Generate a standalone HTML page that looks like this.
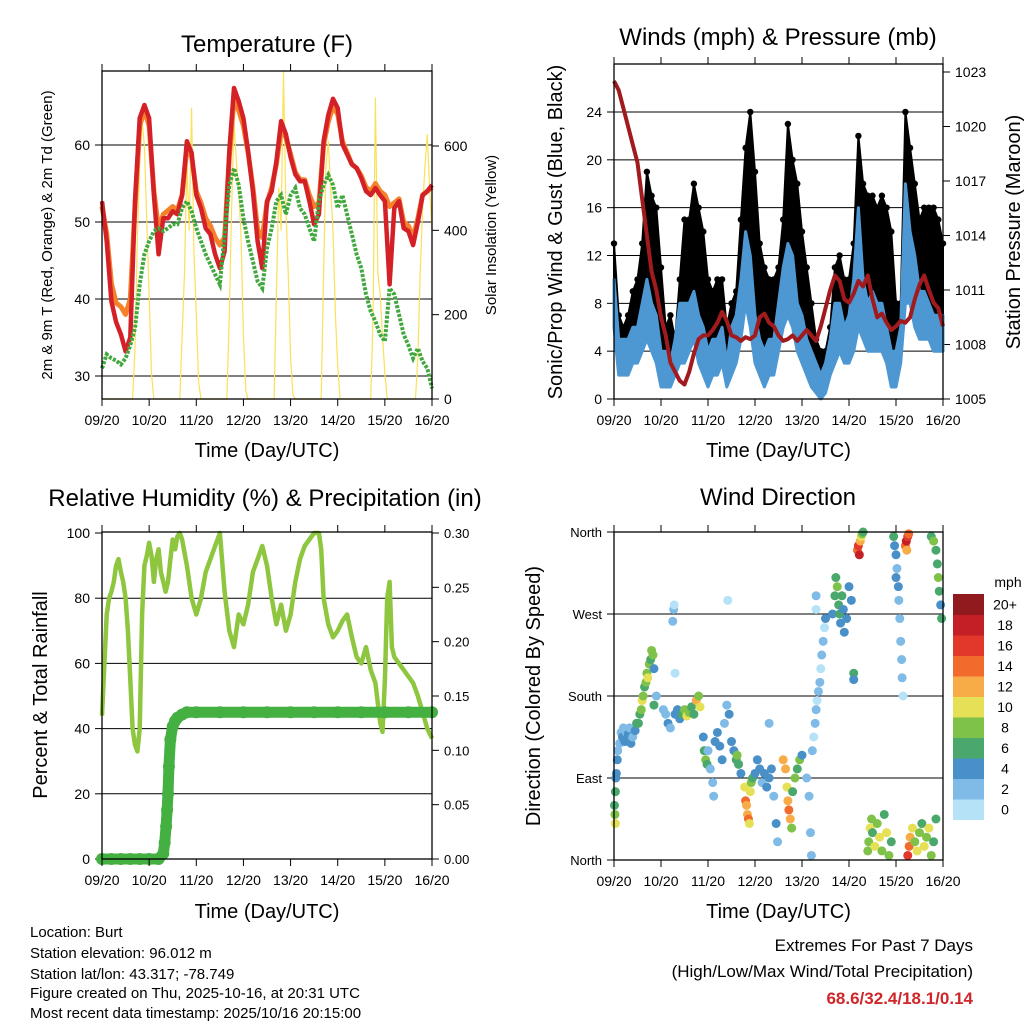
<!DOCTYPE html>
<html><head><meta charset="utf-8">
<style>
html,body{margin:0;padding:0;background:#fff;}
svg{display:block;font-family:"Liberation Sans",Arial,sans-serif;}
</style></head>
<body>
<svg id="fig" width="1024" height="1024" viewBox="0 0 1024 1024" xmlns="http://www.w3.org/2000/svg">
<rect x="0" y="0" width="1024" height="1024" fill="#fff"/>
<g id="p1"></g>
<g id="p2"></g>
<g id="p3"></g>
<g id="p4"></g>
<g id="cb"></g>
<g font-size="15" fill="#000">
<text x="30" y="937">Location: Burt</text>
<text x="30" y="958">Station elevation: 96.012 m</text>
<text x="30" y="979">Station lat/lon: 43.317; -78.749</text>
<text x="30" y="998">Figure created on Thu, 2025-10-16, at 20:31 UTC</text>
<text x="30" y="1018">Most recent data timestamp: 2025/10/16 20:15:00</text>
</g>
<g text-anchor="end">
<text x="973" y="951" font-size="17">Extremes For Past 7 Days</text>
<text x="973" y="977" font-size="17">(High/Low/Max Wind/Total Precipitation)</text>
<text x="973" y="1004" font-size="17" font-weight="bold" fill="#d0262a">68.6/32.4/18.1/0.14</text>
</g>
</svg>
<script>
// ---------- data ----------
const dayLabels = ["09/20","10/20","11/20","12/20","13/20","14/20","15/20","16/20"];
// temperature, 0.1-day step
const tempRed = [52.7,47.5,39.7,37,35.4,33.2,35,52.7,63.5,65.2,63.5,53.5,45.8,50.5,50.5,51.4,51,53.5,60.5,59,53.5,51.8,49.2,48.4,45.8,44,46.2,59.2,67.4,65.7,63.5,59.2,54,47.5,44,52.7,54,57.9,63.1,61.4,58.4,56.2,55.3,55.3,52.7,49.7,51,60.5,63.9,66,64.8,60.1,58.8,57.5,57,55.7,54,53.5,54.4,53.5,52.7,41.9,51.8,52.7,49.2,48.8,47,50,53.5,54,54.8];
const tempOrange = [52,48.5,42,39.5,39,38,40,52,62.5,64.5,62.5,54,49,51,51.5,52,51.5,53.5,59.5,58.5,54,52.5,50.5,49.5,48,47,48,58.5,66,64.5,62.5,59,54.5,49,48,52.5,54.5,57.5,62,61,58.8,56.5,55.5,55.5,53.5,52,52.5,60,63,65,64,60.5,59,57.5,57,56,54.5,54,55,54,53.5,52,52.5,53,50,49.5,48,50.5,53.5,54,54.5];
const dewPoint = [31,32.8,32.3,32,31.5,32.3,34,36.2,41.9,45.8,47.5,48.8,49.2,48.8,49.2,49.7,49.7,51.8,52.7,51.4,49.2,47.5,45.8,44.5,43.2,41.9,48.4,54.8,57,54.8,50.5,47.5,44.9,42.3,41.4,46.6,49.2,52.7,53.5,51,53.5,54.4,51.8,51,49.2,47.5,52.7,54.8,56.1,54.8,51.8,53.5,51,48.4,45.8,44,40.6,38.4,37.1,35.4,34.5,41.4,40.6,38,35.4,34,32.3,33.6,31.9,31,28.4];
// solar insolation, 0.05-day step
const solar = [0,0,0,0,0,0,0,0,0,0,0,0,0,0,120,380,560,660,600,420,
250,60,0,0,0,0,0,0,0,0,0,0,0,0,150,300,560,400,690,350,
200,40,0,0,0,0,0,0,0,0,0,0,0,0,200,450,658,560,500,380,
150,20,0,0,0,0,0,0,0,0,0,0,0,0,250,500,400,777,450,300,
100,10,0,0,0,0,0,0,0,0,0,0,0,0,300,550,611,500,400,200,
80,0,0,0,0,0,0,0,0,0,0,0,0,0,0,200,714,300,250,150,
60,0,0,0,0,0,0,0,0,0,0,0,0,0,100,300,450,550,627,500,400];
// winds (mph), 0.1-day step
const gustHi = [13,7,6,7,9,10,13,19,17,16,11,6,7,5,10,15,15,18,16,14,10,9,10,10,6,8,9,15,21,24,19,13,11,10,10,11,15,23,20,18,14,11,8,5,4,4,6,11,12,10,10,13,22,18,17,17,16,17,16,14,8,8,24,21,18,15,16,16,16,15,13];
const windLo = [6,2,2,2,3,3,4,5,4,3,1,1,1,2,3,3,4,5,3,2,1,2,2,3,1,2,3,5,8,6,3,2,1,2,2,4,6,7,6,4,3,2,1,0.5,0,0.5,2,3,4,3,3,4,6,5,4,4,4,4,3,1,1,3,8,8,6,5,5,5,4,4,4];
const windHi = [10,5,5,5,6,6,8,10,8,7,4,4,3,5,8,8,8,9,7,6,4,5,5,6,3,6,7,10,14,12,7,5,4,5,5,8,11,13,12,8,7,5,4,3,2,3,5,8,8,6,7,10,16,10,8,9,8,8,6,4,4,6,18,14,12,9,9,8,7,7,7];
const pressure = [1022.5,1022,1021,1020,1019,1018,1016,1014,1012,1011,1009.5,1008.5,1007,1006.5,1006,1005.8,1006.5,1007.5,1008.3,1008.5,1008.5,1008.8,1009.2,1009.8,1009.3,1008.5,1008.4,1008.2,1008.4,1008.3,1008.5,1009.5,1009.7,1009.2,1009,1008.5,1008.2,1008.3,1008.5,1008.2,1008.5,1008.8,1008.5,1008.2,1009,1010,1011,1011.8,1011.5,1010.5,1010.3,1010.8,1011.5,1011.2,1011.8,1010.5,1009.5,1009.7,1009.2,1008.8,1009,1009.3,1009.2,1009.5,1010.5,1011.3,1011.8,1011,1010.3,1010,1009];
// humidity
const rhTimes = [0,0.05,0.1,0.15,0.2,0.25,0.3,0.35,0.4,0.45,0.5,0.55,0.6,0.65,0.7,0.75,0.8,0.85,0.9,0.95,1.0,1.05,1.1,1.15,1.2,1.25,1.3,1.35,1.4,1.45,1.5,1.55,1.6,1.65,1.7,1.8,1.9,2.0,2.1,2.2,2.3,2.4,2.5,2.6,2.7,2.8,2.9,3.0,3.1,3.2,3.3,3.4,3.5,3.6,3.7,3.8,3.9,4.0,4.1,4.2,4.3,4.4,4.5,4.6,4.65,4.7,4.8,4.9,5.0,5.1,5.2,5.3,5.4,5.5,5.6,5.7,5.8,5.9,5.95,6.0,6.05,6.1,6.15,6.2,6.3,6.4,6.5,6.6,6.7,6.8,6.9,7.0];
const rhValues = [44,60,75,80,82,85,90,92,88,85,80,70,55,40,35,33,40,75,90,93,97,93,85,92,95,88,85,82,85,92,98,95,99,100,98,90,80,75,80,88,92,96,100,82,70,65,75,72,78,88,92,96,90,80,72,78,70,75,85,92,96,98,100,100,95,80,72,68,70,73,75,68,62,60,65,58,54,42,39,55,80,85,65,62,60,58,56,54,50,45,40,37];
const precipTimes = [0,0.2,0.4,0.6,0.8,1.0,1.2,1.3,1.33,1.36,1.38,1.4,1.42,1.45,1.5,1.55,1.6,1.7,1.8,2.0,2.5,3.0,3.5,4.0,4.5,5.0,5.5,6.0,6.5,7.0];
const precipValues = [0,0,0,0,0,0,0,0.005,0.015,0.03,0.045,0.06,0.085,0.11,0.122,0.127,0.13,0.133,0.135,0.135,0.135,0.135,0.135,0.135,0.135,0.135,0.135,0.135,0.135,0.135];
// wind direction scatter
const dirTimes = [0.01,0.02,0.03,0.03,0.04,0.05,0.07,0.08,0.12,0.15,0.18,0.2,0.23,0.26,0.3,0.33,0.36,0.4,0.45,0.48,0.52,0.55,0.58,0.6,0.62,0.65,0.68,0.7,0.72,0.75,0.78,0.8,0.83,0.85,0.9,0.85,1.05,1.1,1.15,1.2,1.25,1.27,1.28,1.3,1.3,1.35,1.4,1.45,1.5,1.55,1.6,1.65,1.7,1.75,1.8,1.83,1.9,1.92,1.95,1.98,2.0,2.05,2.1,2.12,2.15,2.2,2.25,2.3,2.35,2.4,2.42,2.45,2.5,2.55,2.6,2.62,2.65,2.7,2.78,2.8,2.82,2.84,2.86,2.88,2.9,2.92,2.95,3.0,3.05,3.1,3.15,3.2,3.25,3.3,3.35,3.4,3.45,3.48,3.3,3.6,3.65,3.68,3.7,3.72,3.75,3.78,3.8,3.85,3.9,3.95,4.0,4.1,4.15,4.18,4.2,4.22,4.25,4.28,4.3,4.32,4.35,4.38,4.4,4.42,4.45,4.48,4.5,4.3,4.3,4.65,4.7,4.72,4.75,4.78,4.8,4.82,4.85,4.88,4.9,4.95,5.0,5.05,5.1,5.1,5.18,5.2,5.22,5.24,5.26,5.28,5.3,5.4,5.42,5.45,5.48,5.5,5.55,5.6,5.65,5.7,5.75,5.8,5.85,5.9,5.95,5.97,6.0,6.02,6.05,6.06,6.08,6.1,6.12,6.13,6.15,6.0,6.2,6.22,6.25,6.23,6.27,6.25,6.28,6.3,6.35,6.4,6.45,6.5,6.55,6.6,6.65,6.7,6.75,6.8,6.85,6.75,6.8,6.85,6.88,6.9,6.92,6.95,6.97];
const dirDegrees = [60,50,40,75,90,95,110,120,128,140,135,145,130,140,138,145,128,135,142,150,150,160,165,175,180,190,195,205,200,215,220,230,225,210,180,170,165,160,150,145,262,275,280,205,160,165,155,160,165,158,162,168,160,175,180,168,135,120,110,105,120,100,85,70,130,140,125,110,150,170,285,160,130,120,110,115,105,95,80,65,60,50,45,40,75,85,90,95,110,100,85,95,80,90,100,70,40,20,150,110,100,80,65,55,45,35,75,90,100,110,115,90,70,30,5,120,135,150,165,175,185,195,210,225,240,255,265,275,290,270,290,310,300,280,270,260,290,275,250,265,300,285,205,198,340,345,335,350,355,358,360,10,20,35,45,30,15,40,25,10,50,30,5,20,355,345,335,320,300,285,265,240,220,200,180,310,345,350,355,340,358,5,15,25,35,20,10,30,40,15,25,35,5,20,45,355,350,340,325,310,295,280,265];
const dirSpeeds = [7,8,10,6,4,4,4,3,2,2,4,2,4,2,4,2,4,2,4,6,6,6,8,10,8,6,8,8,10,8,6,8,8,4,2,6,2,2,4,2,2,2,0,0,4,4,4,6,8,10,8,6,6,12,8,10,4,6,8,6,2,2,2,2,4,4,4,4,2,2,0,4,4,4,6,8,6,4,10,14,12,12,14,10,10,8,6,4,4,4,2,4,4,4,4,2,4,2,2,12,12,10,12,14,12,8,6,8,6,8,4,2,2,2,2,2,0,2,2,0,2,2,0,2,2,0,4,0,2,4,6,6,8,6,6,4,6,4,4,4,4,4,6,4,14,16,18,12,10,8,6,8,8,10,8,6,10,8,10,8,6,10,8,6,6,4,4,2,4,2,2,2,2,2,0,4,14,18,16,12,14,16,14,12,10,8,10,8,6,10,8,10,8,6,6,6,8,6,6,8,6,4,6];
const speedLabels = ["0","2","4","6","8","10","12","14","16","18","20+"];
const speedColors = ["#b6e2f8","#7fbbe6","#4a90c8","#4aa86c","#7fc24a","#e6e056","#f7ac48","#f26a2c","#e1382b","#c41e27","#901a1e"];

// ---------- helpers ----------
const NS = "http://www.w3.org/2000/svg";
function mk(parent, tag, attrs, text){
  const e = document.createElementNS(NS, tag);
  for (const k in attrs) e.setAttribute(k, attrs[k]);
  if (text !== undefined) e.textContent = text;
  parent.appendChild(e);
  return e;
}
function lin(d0,d1,r0,r1){ return v => r0 + (v-d0)/(d1-d0)*(r1-r0); }

function frame(g, L, T, R, B){
  const f = mk(g,"rect",{x:L,y:T,width:R-L,height:B-T,fill:"none",stroke:"#000","stroke-width":1.3});
  
  
}
function xAxis(g, L, R, B, T, titleY){
  const xs = lin(0,7,L,R);
  dayLabels.forEach((lab,i)=>{
    const x = xs(i);
    const tk = mk(g,"line",{x1:x,y1:B,x2:x,y2:B+7,stroke:"#000","stroke-width":1});
    
    
    mk(g,"line",{x1:x,y1:T,x2:x,y2:T-7,stroke:"#000","stroke-width":1});
    const t = mk(g,"text",{x:x,y:B+26,"font-size":14,"text-anchor":"middle"},lab);
    
    
  });
  const tt = mk(g,"text",{x:(L+R)/2,y:titleY,"font-size":20,"text-anchor":"middle"},"Time (Day/UTC)");
  
  
  return xs;
}
function yTicks(g, ys, vals, labs, L, R, side, grid, fs){
  vals.forEach((v,i)=>{
    const y = ys(v);
    if (grid){
      const gl = mk(g,"line",{x1:L,y1:y,x2:R,y2:y,stroke:"#000","stroke-width":1});
      
      
    }
    const x0 = side==="left" ? L : R;
    const dir = side==="left" ? -1 : 1;
    mk(g,"line",{x1:x0,y1:y,x2:x0+dir*7,y2:y,stroke:"#000","stroke-width":1});
    const t = mk(g,"text",{x:x0+dir*12,y:y+5,"font-size":fs||14,"text-anchor":side==="left"?"end":"start"},labs[i]);
    
    
  });
}
function vTitle(g, x, y, txt, fs, name){
  const t = mk(g,"text",{x:x,y:y,"font-size":fs,"text-anchor":"middle",transform:`rotate(-90 ${x} ${y})`},txt);
  
  
}
function title(g, x, y, txt, name){
  const t = mk(g,"text",{x:x,y:y,"font-size":24,"text-anchor":"middle"},txt);
  
  
}
function pathFrom(ts, vs, xs, ys){
  return ts.map((t,i)=>(i?"L":"M")+xs(t).toFixed(1)+","+ys(vs[i]).toFixed(1)).join("");
}
const step = (arr, dt) => arr.map((_,i)=>+(i*dt).toFixed(3));

// ---------- Panel 1: temperature ----------
(function(){
  const g = document.getElementById("p1");
  const L=102,T=71,R=432,B=399;
  const xs = lin(0,7,L,R);
  const ys = lin(30,60,376,145);
  const ysol = lin(0,600,399,146);
  title(g,267,52,"Temperature (F)","temperature-title");
  yTicks(g, ys, [30,40,50,60], ["30","40","50","60"], L, R, "left", true);
  yTicks(g, ysol, [0,200,400,600], ["0","200","400","600"], L, R, "right", false);
  const sp = mk(g,"path",{d:pathFrom(step(solar,0.05),solar,xs,ysol),fill:"none",stroke:"#fbe05a","stroke-width":1.2,"stroke-linejoin":"round"});
  
  
  const tx = step(tempRed,0.1);
  const op = mk(g,"path",{d:pathFrom(tx,tempOrange,xs,ys),fill:"none",stroke:"#f5822a","stroke-width":5,"stroke-linejoin":"round"});
  
  
  const rp = mk(g,"path",{d:pathFrom(tx,tempRed,xs,ys),fill:"none",stroke:"#d42128","stroke-width":4.5,"stroke-linejoin":"round"});
  
  
  const dp = mk(g,"path",{d:pathFrom(tx,dewPoint,xs,ys),fill:"none",stroke:"#41a83e","stroke-width":4,"stroke-dasharray":"3 1.5"});
  
  
  frame(g,L,T,R,B);
  xAxis(g,L,R,B,T,457);
  vTitle(g,52,235,"2m & 9m T (Red, Orange) & 2m Td (Green)",15,"y-axis-title");
  vTitle(g,496,235,"Solar Insolation (Yellow)",15,"y2-axis-title");
})();

// ---------- Panel 2: winds & pressure ----------
(function(){
  const g = document.getElementById("p2");
  const L=614,T=64,R=943,B=399;
  const xs = lin(0,7,L,R);
  const ys = lin(0,24,399,112);
  const yp = lin(1005,1023,399,72);
  title(g,778,45,"Winds (mph) & Pressure (mb)","winds-title");
  yTicks(g, ys, [0,4,8,12,16,20,24], ["0","4","8","12","16","20","24"], L, R, "left", true);
  yTicks(g, yp, [1005,1008,1011,1014,1017,1020,1023], ["1005","1008","1011","1014","1017","1020","1023"], L, R, "right", false);
  const tx = step(gustHi,0.1);
  let d = tx.map((t,i)=>(i?"L":"M")+xs(t).toFixed(1)+","+ys(gustHi[i]).toFixed(1)).join("");
  for (let i=tx.length-1;i>=0;i--) d += "L"+xs(tx[i]).toFixed(1)+","+ys(windLo[i]).toFixed(1);
  const gp = mk(g,"path",{d:d+"Z",fill:"#000",stroke:"#000","stroke-width":2,"stroke-linejoin":"round"});
  
  
  gustHi.forEach((v,i)=>{
    const c = mk(g,"circle",{cx:xs(tx[i]),cy:ys(v),r:3.2,fill:"#000"});
    
    
  });
  let wd = tx.map((t,i)=>(i?"L":"M")+xs(t).toFixed(1)+","+ys(windHi[i]).toFixed(1)).join("");
  for (let i=tx.length-1;i>=0;i--) wd += "L"+xs(tx[i]).toFixed(1)+","+ys(windLo[i]).toFixed(1);
  const wp = mk(g,"path",{d:wd+"Z",fill:"#4d97d2",stroke:"#4d97d2","stroke-width":3,"stroke-linejoin":"round"});
  
  
  const pp = mk(g,"path",{d:pathFrom(tx,pressure,xs,yp),fill:"none",stroke:"#a11a1d","stroke-width":4,"stroke-linejoin":"round"});
  
  
  frame(g,L,T,R,B);
  xAxis(g,L,R,B,T,457);
  vTitle(g,562,232,"Sonic/Prop Wind & Gust (Blue, Black)",20,"y-axis-title");
  vTitle(g,1020,232,"Station Pressure (Maroon)",20,"y2-axis-title");
})();

// ---------- Panel 3: humidity & precip ----------
(function(){
  const g = document.getElementById("p3");
  const L=102,T=532,R=432,B=859;
  const xs = lin(0,7,L,R);
  const ys = lin(0,100,859,533);
  const yr = lin(0,0.3,859,533);
  title(g,265,506,"Relative Humidity (%) & Precipitation (in)","humidity-title");
  yTicks(g, ys, [0,20,40,60,80,100], ["0","20","40","60","80","100"], L, R, "left", false);
  [20,40,60,80].forEach(v=>{
    const gl = mk(g,"line",{x1:L,y1:ys(v),x2:R,y2:ys(v),stroke:"#000","stroke-width":1});
    
    
  });
  yTicks(g, yr, [0,0.05,0.1,0.15,0.2,0.25,0.3], ["0.00","0.05","0.10","0.15","0.20","0.25","0.30"], L, R, "right", false, 13);
  const rp = mk(g,"path",{d:pathFrom(rhTimes,rhValues,xs,ys),fill:"none",stroke:"#8ec63f","stroke-width":4.5,"stroke-linejoin":"round"});
  
  
  const pl = mk(g,"path",{d:pathFrom(precipTimes,precipValues,xs,yr),fill:"none",stroke:"#45b042","stroke-width":11,"stroke-linecap":"round","stroke-linejoin":"round"});
  
  
  precipValues.forEach((v,i)=>{
    const c = mk(g,"circle",{cx:xs(precipTimes[i]),cy:yr(v),r:6,fill:"#45b042"});
    
    
  });
  frame(g,L,T,R,B);
  xAxis(g,L,R,B,T,918);
  vTitle(g,47,695,"Percent & Total Rainfall",20,"y-axis-title");
})();

// ---------- Panel 4: wind direction ----------
(function(){
  const g = document.getElementById("p4");
  const L=614,T=532,R=943,B=860;
  const xs = lin(0,7,L,R);
  const ys = lin(0,360,860,532);
  title(g,778,505,"Wind Direction","direction-title");
  yTicks(g, ys, [0,90,180,270,360], ["North","East","South","West","North"], L, R, "left", false, 13);
  [90,180,270].forEach(v=>{
    const gl = mk(g,"line",{x1:L,y1:ys(v),x2:R,y2:ys(v),stroke:"#000","stroke-width":1});
    
    
  });
  dirTimes.forEach((t,i)=>{
    const idx = Math.min(10, Math.floor(dirSpeeds[i]/2));
    const c = mk(g,"circle",{cx:xs(t),cy:ys(dirDegrees[i]),r:4.5,fill:speedColors[idx]});
    
    
  });
  frame(g,L,T,R,B);
  xAxis(g,L,R,B,T,918);
  vTitle(g,540,696,"Direction (Colored By Speed)",20,"y-axis-title");
  const cb = document.getElementById("cb");
  const h = 20.5, top = 594;
  const u = mk(cb,"text",{x:1008,y:587,"font-size":14,"text-anchor":"middle"},"mph");
  
  
  speedColors.forEach((col,i)=>{
    const k = speedColors.length-1-i;
    const r = mk(cb,"rect",{x:953,y:top+k*h,width:31,height:h+0.5,fill:col});
    
    
    const t = mk(cb,"text",{x:1005,y:top+k*h+h/2+5,"font-size":14,"text-anchor":"middle"},speedLabels[i]);
    
    
  });
})();
</script>
</body></html>
